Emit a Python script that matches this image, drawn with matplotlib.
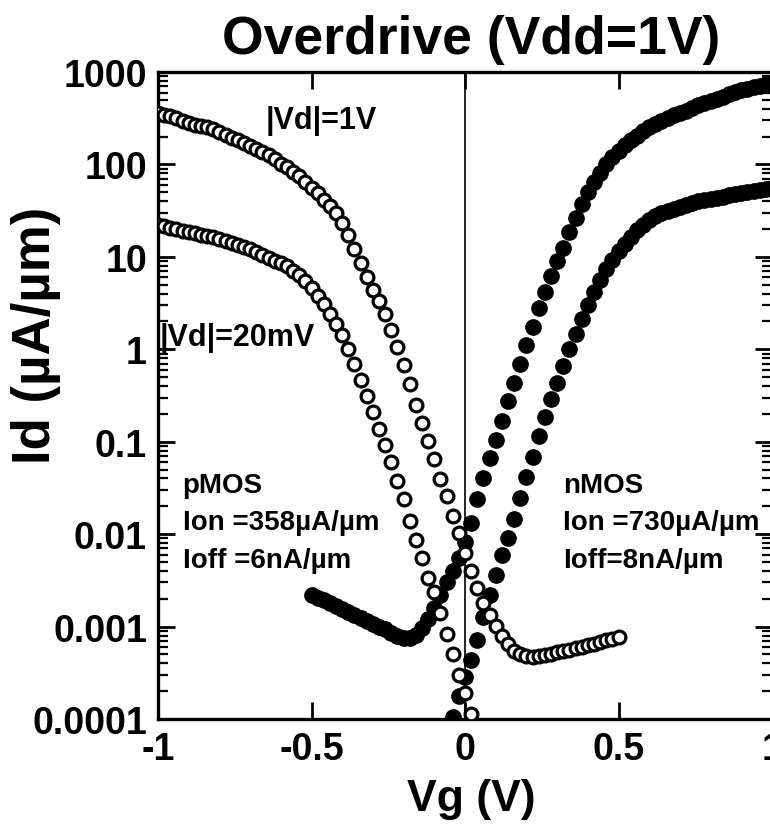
import numpy as np
import matplotlib
matplotlib.use('Agg')
import matplotlib.pyplot as plt
from matplotlib.ticker import LogLocator, NullFormatter

# ---------------- data (log10 of Id in uA/um) ----------------
# pMOS |Vd| = 1 V (open circles), Vg sweep -1.0 .. 0.5 V, 20 mV step
vg_p1 = np.round(np.linspace(-1.0, 0.5, 76), 2)
logid_p1 = [2.56, 2.54, 2.52, 2.50, 2.47, 2.45, 2.43, 2.42, 2.40, 2.38,
            2.35, 2.32, 2.29, 2.26, 2.23, 2.20, 2.17, 2.13, 2.10, 2.06,
            2.01, 1.97, 1.92, 1.87, 1.81, 1.75, 1.69, 1.62, 1.55, 1.47,
            1.37, 1.24, 1.09, 0.93, 0.78, 0.64, 0.52, 0.38, 0.21, 0.02,
            -0.17, -0.38, -0.60, -0.80, -0.99, -1.19, -1.40, -1.59, -1.80, -1.99,
            -2.20, -2.40, -2.58, -2.75, -2.88, -2.99, -3.10, -3.19, -3.26, -3.30,
            -3.32, -3.33, -3.32, -3.31, -3.30, -3.28, -3.26, -3.25, -3.23, -3.22,
            -3.20, -3.19, -3.17, -3.15, -3.13, -3.11]

# pMOS |Vd| = 20 mV (open circles), Vg sweep -1.0 .. 0.02 V
vg_p20 = np.round(np.linspace(-1.0, 0.02, 52), 2)
logid_p20 = [1.34, 1.33, 1.31, 1.30, 1.28, 1.27, 1.26, 1.24, 1.23, 1.21,
             1.19, 1.17, 1.15, 1.13, 1.11, 1.08, 1.05, 1.02, 0.99, 0.96,
             0.93, 0.90, 0.85, 0.80, 0.74, 0.66, 0.58, 0.49, 0.38, 0.27,
             0.15, 0.00, -0.16, -0.33, -0.50, -0.68, -0.86, -1.04, -1.22, -1.43,
             -1.62, -1.86, -2.06, -2.26, -2.47, -2.63, -2.85, -3.08, -3.30, -3.52,
             -3.72, -3.95]

# nMOS Vd = 1 V (filled circles), Vg sweep -0.5 .. 1.0 V
vg_n1 = np.round(np.linspace(-0.5, 1.0, 76), 2)
logid_n1 = [-2.66, -2.69, -2.71, -2.75, -2.78, -2.81, -2.84, -2.87, -2.91, -2.94,
            -2.97, -3.00, -3.03, -3.07, -3.10, -3.12, -3.12, -3.09, -3.02, -2.92,
            -2.80, -2.66, -2.52, -2.40, -2.26, -2.09, -1.88, -1.62, -1.39, -1.18,
            -0.98, -0.78, -0.56, -0.36, -0.16, 0.05, 0.24, 0.45, 0.62, 0.79,
            0.95, 1.10, 1.27, 1.42, 1.57, 1.70, 1.81, 1.91, 2.00, 2.08,
            2.15, 2.21, 2.26, 2.31, 2.36, 2.40, 2.44, 2.47, 2.50, 2.53,
            2.56, 2.58, 2.61, 2.64, 2.66, 2.69, 2.71, 2.73, 2.76, 2.78,
            2.80, 2.82, 2.84, 2.85, 2.87, 2.88]

# nMOS Vd = 20 mV (filled circles), Vg sweep -0.04 .. 1.0 V
vg_n20 = np.round(np.linspace(-0.04, 1.0, 53), 2)
logid_n20 = [-3.98, -3.75, -3.55, -3.36, -3.15, -2.90, -2.66, -2.44, -2.23, -2.04,
             -1.84, -1.61, -1.38, -1.16, -0.94, -0.73, -0.54, -0.36, -0.18, 0.00,
             0.17, 0.33, 0.48, 0.62, 0.75, 0.87, 0.97, 1.06, 1.14, 1.22,
             1.29, 1.35, 1.40, 1.44, 1.47, 1.50, 1.52, 1.54, 1.56, 1.58,
             1.60, 1.61, 1.63, 1.64, 1.65, 1.67, 1.68, 1.69, 1.70, 1.71,
             1.72, 1.73, 1.74]

xtick_vals = [-1, -0.5, 0, 0.5, 1]
xtick_labels = ['-1', '-0.5', '0', '0.5', '1']
ytick_vals = [1e-4, 1e-3, 1e-2, 1e-1, 1, 10, 100, 1000]
ytick_labels = ['0.0001', '0.001', '0.01', '0.1', '1', '10', '100', '1000']

title_text = 'Overdrive (Vdd=1V)'
xlabel_text = 'Vg (V)'
ylabel_text = 'Id (\u00b5A/\u00b5m)'

plt.rcParams['font.family'] = ['Liberation Sans', 'DejaVu Sans']
tick_size = 27

W, H = 770, 828
fig = plt.figure(figsize=(W / 100, H / 100), dpi=100)
left, right, top, bottom = 158, 772, 73, 720
ax = fig.add_axes([left / W, 1 - bottom / H, (right - left) / W, (bottom - top) / H])

ax.set_yscale('log')
ax.set_xlim(-1, 1)
ax.set_ylim(1e-4, 1e3)

ax.axvline(0, color='black', lw=1.2, zorder=1)

filled_kw = dict(linestyle='none', marker='o', markersize=11.0,
                 markerfacecolor='black', markeredgecolor='black', markeredgewidth=1.0)
open_kw = dict(linestyle='none', marker='o', markersize=9.2,
               markerfacecolor='white', markeredgecolor='black', markeredgewidth=2.3)

ax.plot(vg_n1, 10 ** np.array(logid_n1), zorder=3, **filled_kw)
ax.plot(vg_n20, 10 ** np.array(logid_n20), zorder=3, **filled_kw)
ax.plot(vg_p1, 10 ** np.array(logid_p1), zorder=4, **open_kw)
ax.plot(vg_p20, 10 ** np.array(logid_p20), zorder=4, **open_kw)

# ticks
ax.set_xticks(xtick_vals)
ax.set_xticklabels(xtick_labels)
ax.set_yticks(ytick_vals)
ax.set_yticklabels(ytick_labels)
ax.yaxis.set_minor_locator(LogLocator(base=10, subs=np.arange(2, 10), numticks=20))
ax.yaxis.set_minor_formatter(NullFormatter())
ax.tick_params(which='both', direction='in', top=True, right=True)
ax.tick_params(which='major', length=12, width=2)
ax.tick_params(which='minor', length=7, width=1.6)
ax.tick_params(axis='x', pad=9)
ax.tick_params(axis='y', pad=8)
for lab in ax.get_xticklabels() + ax.get_yticklabels():
    lab.set_fontsize(tick_size)
    lab.set_fontweight('bold')
for sp in ax.spines.values():
    sp.set_linewidth(2.4)

# annotations (data coordinates)
ann_kw = dict(fontsize=22, fontweight='bold', ha='left', va='center', zorder=5)
ax.text(-0.65, 10 ** 2.48, '|Vd|=1V', **ann_kw)
ax.text(-0.995, 10 ** 0.13, '|Vd|=20mV', **ann_kw)
small_kw = dict(fontsize=20, fontweight='bold', ha='left', va='center', zorder=5)
ax.text(-0.92, 10 ** -1.47, 'pMOS', **small_kw)
ax.text(-0.92, 10 ** -1.87, 'Ion =358\u00b5A/\u00b5m', **small_kw)
ax.text(-0.92, 10 ** -2.28, 'Ioff =6nA/\u00b5m', **small_kw)
ax.text(0.32, 10 ** -1.47, 'nMOS', **small_kw)
ax.text(0.32, 10 ** -1.87, 'Ion =730\u00b5A/\u00b5m', **small_kw)
ax.text(0.32, 10 ** -2.28, 'Ioff=8nA/\u00b5m', **small_kw)

fig.text(471 / W, 1 - 40 / H, title_text, ha='center', va='center',
         fontsize=38.5, fontweight='bold')
fig.text(471 / W, 1 - 800 / H, xlabel_text, ha='center', va='center',
         fontsize=32, fontweight='bold')
fig.text(36 / W, 1 - 335 / H, ylabel_text, ha='center', va='center',
         rotation=90, fontsize=38, fontweight='bold')

fig.savefig('out.png', dpi=100)
